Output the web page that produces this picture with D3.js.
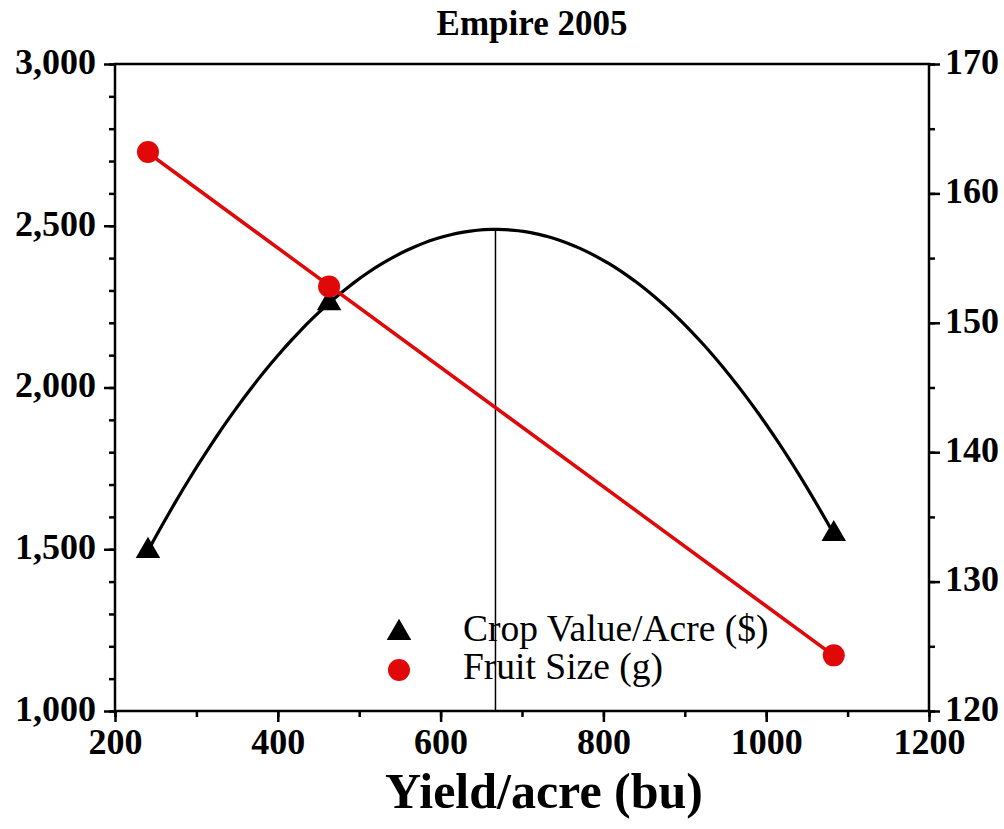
<!DOCTYPE html>
<html>
<head>
<meta charset="utf-8">
<script src="https://d3js.org/d3.v7.min.js"></script>
<style>
* { margin: 0; padding: 0; }
body { background: #fff; }
svg { display: block; font-family: "Liberation Serif", "Times New Roman", serif; }
</style>
</head>
<body>
<svg width="1004" height="829"></svg>
<script>
// yield (bu/acre) for each block
const yieldVals = [240.5, 463, 1083];
// crop value per acre ($), left axis
const cropValue = [1495, 2261, 1547];
// fruit size (g), right axis
const fruitSize = [163.2, 152.8, 124.3];

const xTicks = [200, 400, 600, 800, 1000, 1200];
const leftTicks = [1000, 1500, 2000, 2500, 3000];
const rightTicks = [120, 130, 140, 150, 160, 170];

const title = "Empire 2005";
const xLabel = "Yield/acre (bu)";
const legendNames = ["Crop Value/Acre ($)", "Fruit Size (g)"];

const red = "#e00808";
const serif = '"Liberation Serif", "Times New Roman", serif';

const svg = d3.select("svg");
const W = 1004, H = 829;
const margin = {top: 64, right: 75, bottom: 118, left: 115};
const iw = W - margin.left - margin.right;
const ih = H - margin.top - margin.bottom;

const x = d3.scaleLinear().domain([200, 1200]).range([0, iw]);
const yL = d3.scaleLinear().domain([1000, 3000]).range([ih, 0]);
const yR = d3.scaleLinear().domain([120, 170]).range([ih, 0]);

const g = svg.append("g").attr("transform", `translate(${margin.left},${margin.top})`);

// quadratic fit through crop value points (least squares, 3 points -> exact)
function quadFit(xs, ys) {
  const n = xs.length;
  let s = [0, 0, 0, 0, 0], t = [0, 0, 0];
  for (let i = 0; i < n; i++) {
    for (let k = 0; k < 5; k++) s[k] += Math.pow(xs[i], k);
    for (let k = 0; k < 3; k++) t[k] += ys[i] * Math.pow(xs[i], k);
  }
  const A = [[s[0], s[1], s[2], t[0]], [s[1], s[2], s[3], t[1]], [s[2], s[3], s[4], t[2]]];
  for (let c = 0; c < 3; c++) {
    for (let r = c + 1; r < 3; r++) {
      const f = A[r][c] / A[c][c];
      for (let k = c; k < 4; k++) A[r][k] -= f * A[c][k];
    }
  }
  const coef = [0, 0, 0];
  for (let r = 2; r >= 0; r--) {
    let v = A[r][3];
    for (let k = r + 1; k < 3; k++) v -= A[r][k] * coef[k];
    coef[r] = v / A[r][r];
  }
  return coef; // c0 + c1 x + c2 x^2
}

function linFit(xs, ys) {
  const mx = d3.mean(xs), my = d3.mean(ys);
  let num = 0, den = 0;
  xs.forEach((v, i) => { num += (v - mx) * (ys[i] - my); den += (v - mx) * (v - mx); });
  const b = num / den;
  return [my - b * mx, b];
}

const q = quadFit(yieldVals, cropValue);
const qf = v => q[0] + q[1] * v + q[2] * v * v;
const lf = linFit(yieldVals, fruitSize);

const xmin = d3.min(yieldVals), xmax = d3.max(yieldVals);
const curvePts = d3.range(0, 101).map(i => xmin + (xmax - xmin) * i / 100);

// axes: minor then major ticks
function minorMajor(axisFn, scale, minorVals, majorVals, fmt, pad) {
  return function (sel) {
    sel.append("g").call(axisFn(scale).tickValues(minorVals).tickSize(6).tickFormat(""));
    sel.append("g").call(axisFn(scale).tickValues(majorVals).tickSize(11).tickPadding(pad).tickFormat(fmt));
    sel.selectAll("g").attr("font-family", serif).attr("font-size", null);
    sel.selectAll(".domain").remove();
    sel.selectAll("line").attr("stroke", "#000").attr("stroke-width", 2.5);
    sel.selectAll("text").attr("fill", "#000")
      .style("font-size", "36px").style("font-weight", "bold").style("font-family", serif);
  };
}

g.append("g").attr("transform", `translate(0,${ih})`)
  .call(minorMajor(d3.axisBottom, x, d3.range(200, 1201, 100), xTicks, d3.format("d"), 4))
  .selectAll("text").attr("dy", "0.78em");

g.append("g")
  .call(minorMajor(d3.axisLeft, yL, d3.range(1000, 3001, 100), leftTicks, d3.format(","), 8))
  .selectAll("text").attr("dy", "0.26em");

g.append("g").attr("transform", `translate(${iw},0)`)
  .call(minorMajor(d3.axisRight, yR, d3.range(120, 171, 5), rightTicks, d3.format("d"), 5))
  .selectAll("text").attr("dy", "0.26em");

// frame
g.append("rect").attr("width", iw).attr("height", ih)
  .attr("fill", "none").attr("stroke", "#000").attr("stroke-width", 2.5);

// vertical line at the curve maximum
const xPeak = -q[1] / (2 * q[2]);
g.append("line")
  .attr("x1", x(xPeak)).attr("x2", x(xPeak))
  .attr("y1", yL(qf(xPeak))).attr("y2", ih)
  .attr("stroke", "#000").attr("stroke-width", 1.5);

// quadratic curve
g.append("path")
  .datum(curvePts)
  .attr("fill", "none").attr("stroke", "#000").attr("stroke-width", 3.2)
  .attr("d", d3.line().x(d => x(d)).y(d => yL(qf(d))));

// linear fit for fruit size
g.append("line")
  .attr("x1", x(xmin)).attr("y1", yR(lf[0] + lf[1] * xmin))
  .attr("x2", x(xmax)).attr("y2", yR(lf[0] + lf[1] * xmax))
  .attr("stroke", red).attr("stroke-width", 3.5);

const tri = d3.symbol().type(d3.symbolTriangle).size(260);

g.selectAll(".tri").data(yieldVals).join("path")
  .attr("class", "tri")
  .attr("d", tri)
  .attr("transform", (d, i) => `translate(${x(d)},${yL(cropValue[i])})`)
  .attr("fill", "#000");

g.selectAll(".dot").data(yieldVals).join("circle")
  .attr("class", "dot")
  .attr("cx", d => x(d)).attr("cy", (d, i) => yR(fruitSize[i]))
  .attr("r", 11).attr("fill", red);

// legend
const leg = g.append("g").attr("transform", `translate(${284},${568})`);
leg.append("path").attr("d", tri).attr("fill", "#000").attr("transform", "translate(0,1)");
leg.append("circle").attr("cx", 0).attr("cy", 38).attr("r", 11).attr("fill", red);
legendNames.forEach((name, i) => {
  leg.append("text").attr("x", 64).attr("y", 9 + i * 38)
    .style("font-size", "37.5px").attr("fill", "#000").text(name);
});

// title and axis label
svg.append("text").attr("x", 532).attr("y", 35).attr("text-anchor", "middle")
  .style("font-size", "35px").style("font-weight", "bold").text(title);
svg.append("text").attr("x", 544).attr("y", 808).attr("text-anchor", "middle")
  .style("font-size", "50px").style("font-weight", "bold").text(xLabel);
</script>
</body>
</html>
